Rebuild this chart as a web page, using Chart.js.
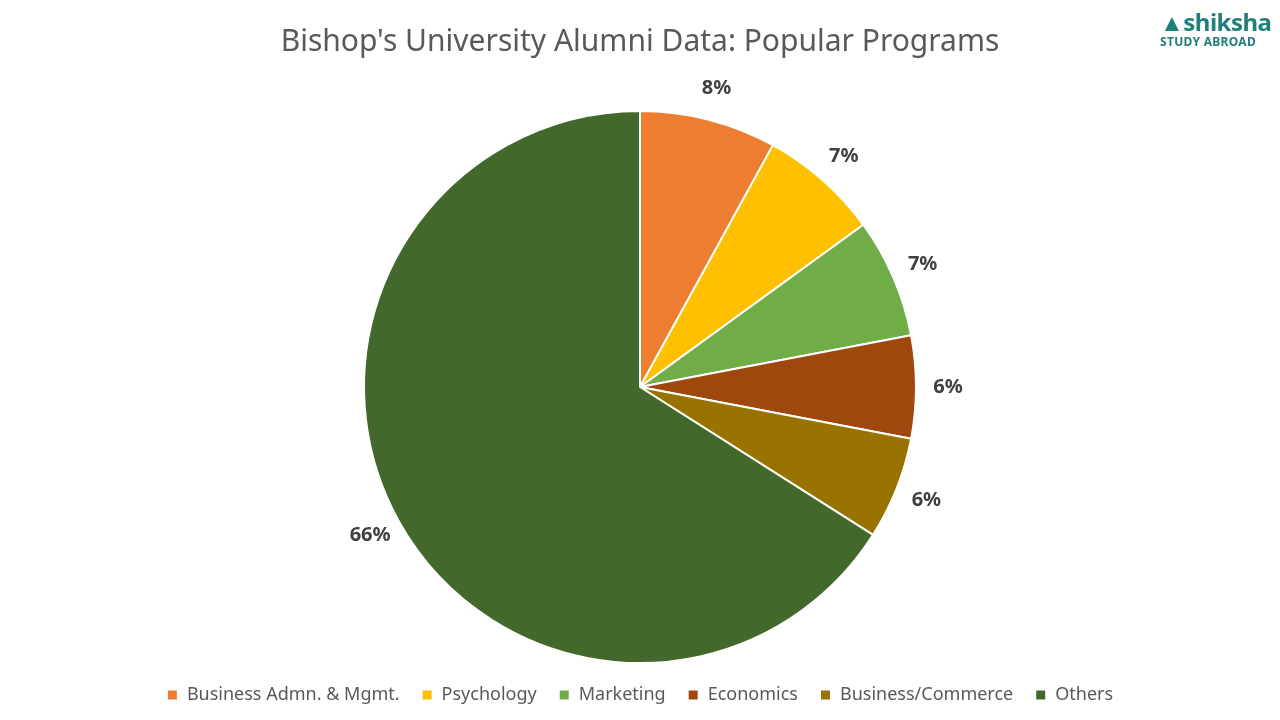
<!DOCTYPE html>
<html><head><meta charset="utf-8">
<script src="https://cdn.jsdelivr.net/npm/chart.js@4"></script>
<style>
body{margin:0;background:#fff;width:1280px;height:720px;overflow:hidden;position:relative;font-family:"Noto Sans",sans-serif}
#wrap{position:absolute;left:0;top:0;width:1280px;height:720px}
#logo{position:absolute;left:1160px;top:10px;color:#1f7f7a;line-height:1}
#logo .a{font-size:24px;font-weight:bold;letter-spacing:-0.5px}
#logo .b{font-size:12px;font-weight:bold;letter-spacing:0.3px;margin-top:2px}
</style></head>
<body>
<div id="wrap"><canvas id="myChart"></canvas></div>
<div id="logo"><div class="a">&#x25B2;shiksha</div><div class="b">STUDY ABROAD</div></div>
<script>
const programs = ['Business Admn. & Mgmt.', 'Psychology', 'Marketing', 'Economics', 'Business/Commerce', 'Others'];
const shares = [8, 7, 7, 6, 6, 66];
const sliceColors = ['#ed7d31', '#ffc000', '#70ad47', '#9e480e', '#997300', '#43682b'];

// labels outside each slice
const outsideLabels = {
    id: 'outsideLabels',
    afterDatasetsDraw(chart) {
        const c = chart.ctx;
        c.save();
        c.font = 'bold 20px "Noto Sans"';
        c.fillStyle = '#404040';
        c.textAlign = 'center';
        c.textBaseline = 'middle';
        chart.getDatasetMeta(0).data.forEach((arc, i) => {
            const mid = (arc.startAngle + arc.endAngle) / 2;
            const r = arc.outerRadius + 32;
            c.fillText(shares[i] + '%', arc.x + Math.cos(mid) * r, arc.y + Math.sin(mid) * r);
        });
        c.restore();
    }
};

var ctx = document.getElementById('myChart').getContext('2d');
var myChart = new Chart(ctx, {
    type: 'pie',
    data: {
        labels: programs,
        datasets: [{
            data: shares,
            backgroundColor: sliceColors,
            borderColor: '#ffffff',
            borderWidth: 2
        }]
    },
    options: {
        responsive: true,
        maintainAspectRatio: false,
        animation: false,
        layout: { padding: { top: 24, bottom: 6 } },
        plugins: {
            title: {
                display: true,
                text: "Bishop's University Alumni Data: Popular Programs",
                color: '#595959',
                font: { size: 30, family: 'Noto Sans', weight: 'normal' },
                padding: { top: 0, bottom: 50 }
            },
            legend: {
                position: 'bottom',
                labels: {
                    color: '#595959',
                    font: { size: 18, family: 'Noto Sans' },
                    boxWidth: 11,
                    boxHeight: 11,
                    padding: 22
                }
            },
            tooltip: { enabled: false }
        }
    },
    plugins: [outsideLabels]
});
</script>
</body></html>
